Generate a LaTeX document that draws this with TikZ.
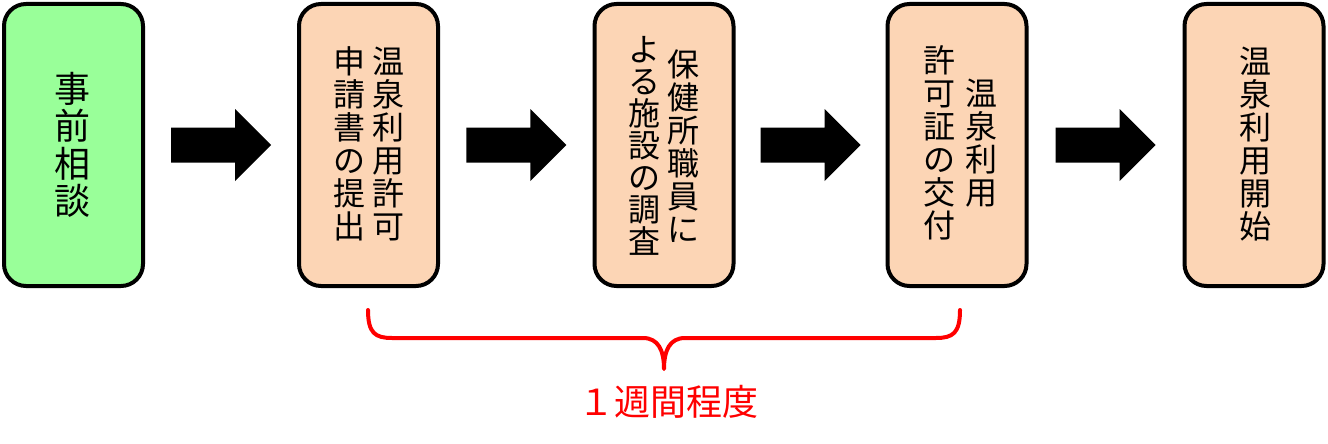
\documentclass[tikz,border=0pt]{standalone}
\usepackage{fontspec}
\setmainfont{Noto Sans CJK JP}
\usetikzlibrary{calc}
\definecolor{boxgreen}{RGB}{153,255,153}
\definecolor{boxpeach}{RGB}{252,213,181}
\definecolor{bracered}{RGB}{255,0,0}
\newcommand\blockarr[1]{%
  \fill[black] ($(#1)+(-50,-17.5)$) -- ++(64,0) -- ++(0,-18.5) -- ++(36,36)
    -- ++(-36,36) -- ++(0,-18.5) -- ++(-64,0) -- cycle;}
\begin{document}
\begin{tikzpicture}[x=1pt,y=-1pt,
  stepbox/.style={draw=black, line width=4pt, rounded corners=22pt,
    minimum width=139pt, minimum height=282pt, inner sep=0pt},
  vcol/.style={align=center, inner sep=0pt, font=\fontsize{32}{33}\selectfont},
  vcoltight/.style={align=center, inner sep=0pt, font=\fontsize{32}{32}\selectfont},
  vcolbig/.style={align=center, inner sep=0pt, font=\fontsize{36}{37.5}\selectfont},
  bracestyle/.style={draw=bracered, line width=4pt, line cap=round, line join=round},
]
\useasboundingbox (0,0) rectangle (1328,444);
% boxes
\node[stepbox, fill=boxgreen] (b1) at (73.5,145) {};
\node[stepbox, fill=boxpeach] (b2) at (368.5,145) {};
\node[stepbox, fill=boxpeach] (b3) at (664,145) {};
\node[stepbox, fill=boxpeach] (b4) at (957,145) {};
\node[stepbox, fill=boxpeach] (b5) at (1254,145) {};
% texts
\node[vcolbig] (t1) at (72,145) {事\\前\\相\\談};
\node[vcol] (t2a) at (388,144) {温\\泉\\利\\用\\許\\可};
\node[vcol] (t2b) at (349,144) {申\\請\\書\\の\\提\\出};
\node[vcol] (t3a) at (683,146) {保\\健\\所\\職\\員\\に};
\node[vcoltight] (t3b) at (644,146) {よ\\る\\施\\設\\の\\調\\査};
\node[vcol] (t4a) at (981,143) {温\\泉\\利\\用};
\node[vcol] (t4b) at (939,143) {許\\可\\証\\の\\交\\付};
\node[vcol] (t5) at (1255,144) {温\\泉\\利\\用\\開\\始};
% block arrows between boxes
\path (b1.east) -- (b2.west) coordinate[pos=.5] (m1);
\path (b2.east) -- (b3.west) coordinate[pos=.5] (m2);
\path (b3.east) -- (b4.west) coordinate[pos=.5] (m3);
\path (b4.east) -- (b5.west) coordinate[pos=.5] (m4);
\blockarr{m1}
\blockarr{m2}
\blockarr{m3}
\blockarr{m4}
% brace
\coordinate (brL) at (368,310);
\coordinate (brR) at (960,310);
\coordinate (brT) at (664,369);
\draw[bracestyle] (brL) .. controls (368,333) and (375,338) .. (392,338)
  -- (643,338) .. controls (658,338) and (664,350) .. (brT)
  .. controls (664,350) and (670,338) .. (685,338)
  -- (936,338) .. controls (953,338) and (960,333) .. (brR);
\node[text=bracered, inner sep=0pt, font=\fontsize{36}{36}\selectfont] (lab) at (668,402) {１週間程度};
\end{tikzpicture}
\end{document}
